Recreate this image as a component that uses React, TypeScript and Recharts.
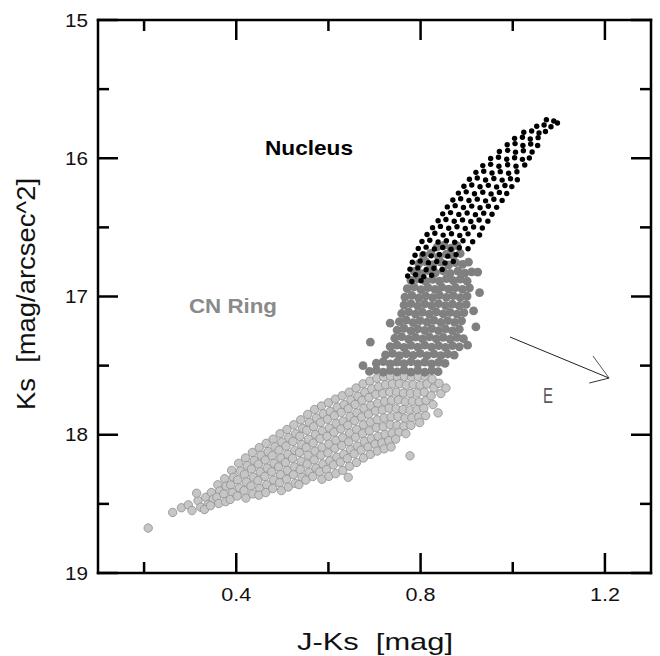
import React from 'react';
import { ScatterChart, Scatter, XAxis, YAxis, ReferenceLine } from 'recharts';

// ---------- axis ticks ----------
const xTicks = [0.2, 0.4, 0.6, 0.8, 1.0, 1.2];
const xLabelTicks = [0.4, 0.8, 1.2];
const yTicks = [15, 15.5, 16, 16.5, 17, 17.5, 18, 18.5, 19];
const yLabelTicks = [15, 16, 17, 18, 19];
const xDomain: [number, number] = [0.1, 1.3];
const yDomain: [number, number] = [15, 19];

// ---------- series: [J-Ks, Ks] ----------
// outer disk (light grey open circles)
const diskPoints: [number, number][] = [
  [0.209, 18.675], [0.262, 18.562], [0.281, 18.528], [0.296, 18.507], [0.304, 18.548], [0.317, 18.476], [0.323, 18.524],
  [0.334, 18.452], [0.339, 18.503], [0.331, 18.541], [0.314, 18.423],
  [0.346, 18.418], [0.35, 18.466], [0.344, 18.513],
  [0.36, 18.362], [0.364, 18.407], [0.358, 18.452], [0.362, 18.497],
  [0.375, 18.318], [0.378, 18.372], [0.373, 18.428], [0.377, 18.484],
  [0.39, 18.258], [0.394, 18.308], [0.388, 18.363], [0.392, 18.418], [0.387, 18.468],
  [0.405, 18.207], [0.409, 18.262], [0.403, 18.327], [0.407, 18.384], [0.402, 18.443],
  [0.42, 18.168], [0.424, 18.223], [0.418, 18.287], [0.422, 18.341], [0.417, 18.404], [0.421, 18.458],
  [0.435, 18.128], [0.439, 18.187], [0.433, 18.248], [0.437, 18.306], [0.432, 18.371], [0.436, 18.428],
  [0.45, 18.093], [0.454, 18.148], [0.448, 18.213], [0.452, 18.268], [0.447, 18.332], [0.451, 18.388], [0.449, 18.437],
  [0.465, 18.062], [0.469, 18.122], [0.463, 18.183], [0.467, 18.241], [0.462, 18.302], [0.466, 18.362], [0.464, 18.418],
  [0.48, 18.032], [0.484, 18.087], [0.478, 18.152], [0.482, 18.207], [0.477, 18.268], [0.481, 18.327], [0.479, 18.389],
  [0.495, 17.993], [0.499, 18.053], [0.493, 18.112], [0.497, 18.168], [0.492, 18.232], [0.496, 18.288], [0.494, 18.347], [0.498, 18.404],
  [0.51, 17.962], [0.514, 18.021], [0.508, 18.083], [0.512, 18.142], [0.507, 18.201], [0.511, 18.258], [0.509, 18.322], [0.513, 18.378],
  [0.525, 17.928], [0.529, 17.992], [0.523, 18.049], [0.527, 18.113], [0.522, 18.171], [0.526, 18.232], [0.524, 18.289], [0.528, 18.352],
  [0.54, 17.892], [0.544, 17.953], [0.538, 18.012], [0.542, 18.071], [0.537, 18.128], [0.541, 18.191], [0.539, 18.252], [0.543, 18.308], [0.536, 18.361],
  [0.555, 17.853], [0.559, 17.912], [0.553, 17.968], [0.557, 18.032], [0.552, 18.093], [0.556, 18.148], [0.554, 18.212], [0.558, 18.271], [0.551, 18.328],
  [0.57, 17.817], [0.574, 17.878], [0.568, 17.942], [0.572, 17.998], [0.567, 18.061], [0.571, 18.118], [0.569, 18.182], [0.573, 18.241], [0.566, 18.302],
  [0.585, 17.792], [0.589, 17.848], [0.583, 17.911], [0.587, 17.972], [0.582, 18.028], [0.586, 18.092], [0.584, 18.148], [0.588, 18.212], [0.581, 18.268], [0.586, 18.322],
  [0.6, 17.768], [0.604, 17.832], [0.598, 17.888], [0.602, 17.951], [0.597, 18.012], [0.601, 18.068], [0.599, 18.131], [0.603, 18.188], [0.596, 18.252], [0.601, 18.301],
  [0.615, 17.742], [0.619, 17.801], [0.613, 17.862], [0.617, 17.918], [0.612, 17.982], [0.616, 18.041], [0.614, 18.098], [0.618, 18.162], [0.611, 18.218], [0.616, 18.281],
  [0.63, 17.718], [0.634, 17.782], [0.628, 17.838], [0.632, 17.902], [0.627, 17.958], [0.631, 18.021], [0.629, 18.078], [0.633, 18.142], [0.626, 18.198], [0.631, 18.258],
  [0.645, 17.692], [0.649, 17.748], [0.643, 17.812], [0.647, 17.868], [0.642, 17.932], [0.646, 17.988], [0.644, 18.052], [0.648, 18.108], [0.641, 18.172], [0.646, 18.228], [0.643, 18.308],
  [0.66, 17.662], [0.664, 17.722], [0.658, 17.781], [0.662, 17.842], [0.657, 17.898], [0.661, 17.962], [0.659, 18.018], [0.663, 18.082], [0.656, 18.138], [0.661, 18.201],
  [0.675, 17.632], [0.679, 17.692], [0.673, 17.752], [0.677, 17.808], [0.672, 17.872], [0.676, 17.928], [0.674, 17.992], [0.678, 18.048], [0.671, 18.112], [0.676, 18.168],
  [0.69, 17.612], [0.694, 17.668], [0.688, 17.731], [0.692, 17.788], [0.687, 17.852], [0.691, 17.908], [0.689, 17.972], [0.693, 18.028], [0.686, 18.088], [0.691, 18.142],
  [0.705, 17.592], [0.709, 17.652], [0.703, 17.708], [0.707, 17.772], [0.702, 17.828], [0.706, 17.892], [0.704, 17.948], [0.708, 18.012], [0.701, 18.068], [0.706, 18.118],
  [0.72, 17.582], [0.724, 17.638], [0.718, 17.702], [0.722, 17.758], [0.717, 17.822], [0.721, 17.878], [0.719, 17.942], [0.723, 17.998], [0.716, 18.058], [0.721, 18.102],
  [0.735, 17.578], [0.739, 17.632], [0.733, 17.692], [0.737, 17.752], [0.732, 17.808], [0.736, 17.872], [0.734, 17.928], [0.738, 17.988], [0.731, 18.042], [0.736, 18.088],
  [0.75, 17.582], [0.754, 17.631], [0.748, 17.692], [0.752, 17.748], [0.747, 17.812], [0.751, 17.868], [0.749, 17.932], [0.753, 17.982], [0.746, 18.032],
  [0.765, 17.578], [0.769, 17.642], [0.763, 17.698], [0.767, 17.762], [0.762, 17.818], [0.766, 17.882], [0.764, 17.938], [0.768, 17.992],
  [0.78, 17.582], [0.784, 17.638], [0.778, 17.702], [0.782, 17.758], [0.777, 17.822], [0.781, 17.878], [0.779, 17.932], [0.777, 18.152],
  [0.795, 17.578], [0.799, 17.642], [0.793, 17.698], [0.797, 17.762], [0.792, 17.818], [0.796, 17.872], [0.798, 17.912],
  [0.81, 17.582], [0.814, 17.632], [0.808, 17.692], [0.812, 17.752], [0.807, 17.808], [0.811, 17.862],
  [0.825, 17.598], [0.829, 17.662], [0.823, 17.718], [0.827, 17.782],
  [0.84, 17.628], [0.844, 17.702], [0.838, 17.842], [0.855, 17.662],
];

// CN ring (dark grey)
const ringPoints: [number, number][] = [
  [0.836, 16.642], [0.851, 16.628], [0.866, 16.651], [0.879, 16.633],
  [0.806, 16.702], [0.822, 16.688], [0.839, 16.711], [0.856, 16.694], [0.871, 16.706], [0.886, 16.689],
  [0.796, 16.764], [0.811, 16.748], [0.827, 16.769], [0.844, 16.752], [0.861, 16.771], [0.876, 16.755], [0.891, 16.768], [0.904, 16.751],
  [0.786, 16.818], [0.801, 16.834], [0.816, 16.812], [0.832, 16.829], [0.849, 16.815], [0.864, 16.833], [0.881, 16.816], [0.896, 16.831], [0.911, 16.822],
  [0.779, 16.884], [0.794, 16.872], [0.811, 16.891], [0.826, 16.876], [0.841, 16.889], [0.856, 16.871], [0.871, 16.886], [0.886, 16.874], [0.901, 16.889],
  [0.771, 16.943], [0.786, 16.931], [0.801, 16.951], [0.816, 16.936], [0.831, 16.948], [0.846, 16.932], [0.861, 16.947], [0.876, 16.935], [0.891, 16.949], [0.906, 16.937],
  [0.766, 17.004], [0.781, 16.992], [0.796, 17.011], [0.811, 16.996], [0.826, 17.008], [0.841, 16.991], [0.856, 17.006], [0.871, 16.994], [0.886, 17.009], [0.901, 16.997],
  [0.764, 17.062], [0.779, 17.051], [0.794, 17.069], [0.809, 17.054], [0.824, 17.067], [0.839, 17.052], [0.854, 17.066], [0.869, 17.055], [0.884, 17.068], [0.899, 17.057],
  [0.759, 17.123], [0.774, 17.111], [0.789, 17.128], [0.804, 17.114], [0.819, 17.127], [0.834, 17.112], [0.849, 17.126], [0.864, 17.115], [0.879, 17.128], [0.894, 17.116],
  [0.754, 17.182], [0.769, 17.171], [0.784, 17.189], [0.799, 17.174], [0.814, 17.186], [0.829, 17.172], [0.844, 17.188], [0.859, 17.175], [0.874, 17.187], [0.889, 17.176],
  [0.749, 17.243], [0.764, 17.231], [0.779, 17.248], [0.794, 17.234], [0.809, 17.246], [0.824, 17.232], [0.839, 17.247], [0.854, 17.235], [0.869, 17.249], [0.884, 17.236],
  [0.744, 17.302], [0.759, 17.291], [0.774, 17.309], [0.789, 17.294], [0.804, 17.306], [0.819, 17.292], [0.834, 17.307], [0.849, 17.295], [0.864, 17.308], [0.879, 17.296], [0.893, 17.305],
  [0.734, 17.362], [0.749, 17.351], [0.764, 17.368], [0.779, 17.354], [0.794, 17.366], [0.809, 17.352], [0.824, 17.367], [0.839, 17.355], [0.854, 17.368], [0.869, 17.356], [0.884, 17.364],
  [0.724, 17.423], [0.739, 17.411], [0.754, 17.428], [0.769, 17.414], [0.784, 17.426], [0.799, 17.412], [0.814, 17.427], [0.829, 17.415], [0.844, 17.428], [0.859, 17.416], [0.873, 17.424],
  [0.704, 17.483], [0.719, 17.471], [0.734, 17.488], [0.749, 17.474], [0.764, 17.486], [0.779, 17.472], [0.794, 17.487], [0.809, 17.475], [0.824, 17.488], [0.839, 17.476], [0.853, 17.484],
  [0.689, 17.542], [0.704, 17.531], [0.719, 17.548], [0.734, 17.534], [0.749, 17.546], [0.764, 17.532], [0.779, 17.547], [0.794, 17.535], [0.809, 17.548], [0.824, 17.536], [0.838, 17.544],
  [0.928, 16.972], [0.924, 16.823], [0.734, 17.192], [0.675, 17.5], [0.691, 17.33], [0.902, 17.352], [0.915, 17.104], [0.92, 17.22],
];

// nucleus (black)
const nucleusPoints: [number, number][] = [
  [1.073, 15.722], [1.089, 15.731], [1.097, 15.745],
  [1.052, 15.768], [1.068, 15.759], [1.083, 15.772],
  [1.024, 15.812], [1.041, 15.803], [1.057, 15.817], [1.071, 15.806],
  [1.004, 15.856], [1.021, 15.848], [1.038, 15.861], [1.055, 15.851],
  [0.988, 15.902], [1.005, 15.894], [1.022, 15.907], [1.039, 15.897], [1.054, 15.908],
  [0.971, 15.951], [0.989, 15.943], [1.006, 15.956], [1.023, 15.946], [1.042, 15.955],
  [0.952, 16.002], [0.969, 15.993], [0.987, 16.007], [1.004, 15.996], [1.021, 16.008], [1.036, 15.998],
  [0.935, 16.053], [0.952, 16.044], [0.97, 16.058], [0.989, 16.047], [1.007, 16.057], [1.026, 16.049],
  [0.92, 16.102], [0.937, 16.094], [0.955, 16.107], [0.973, 16.097], [0.991, 16.108], [1.009, 16.098],
  [0.906, 16.152], [0.923, 16.143], [0.941, 16.157], [0.959, 16.146], [0.977, 16.158], [0.995, 16.148], [1.01, 16.156],
  [0.894, 16.202], [0.911, 16.193], [0.929, 16.206], [0.947, 16.196], [0.965, 16.208], [0.983, 16.197], [0.998, 16.205],
  [0.882, 16.252], [0.899, 16.243], [0.917, 16.257], [0.935, 16.246], [0.953, 16.258], [0.971, 16.247], [0.987, 16.255],
  [0.87, 16.302], [0.887, 16.293], [0.905, 16.306], [0.923, 16.296], [0.941, 16.308], [0.959, 16.297], [0.977, 16.305],
  [0.858, 16.352], [0.875, 16.343], [0.893, 16.356], [0.911, 16.346], [0.929, 16.358], [0.947, 16.347], [0.965, 16.355],
  [0.848, 16.402], [0.865, 16.393], [0.883, 16.406], [0.901, 16.396], [0.919, 16.408], [0.937, 16.397], [0.955, 16.405],
  [0.838, 16.452], [0.855, 16.443], [0.873, 16.456], [0.891, 16.446], [0.909, 16.458], [0.927, 16.447], [0.946, 16.455],
  [0.826, 16.502], [0.843, 16.493], [0.861, 16.506], [0.879, 16.496], [0.897, 16.508], [0.915, 16.497], [0.934, 16.505],
  [0.814, 16.552], [0.831, 16.543], [0.849, 16.556], [0.867, 16.546], [0.885, 16.558], [0.903, 16.547], [0.928, 16.555],
  [0.803, 16.602], [0.82, 16.593], [0.838, 16.606], [0.856, 16.596], [0.874, 16.608], [0.892, 16.597], [0.913, 16.604],
  [0.795, 16.652], [0.812, 16.643], [0.83, 16.656], [0.848, 16.646], [0.866, 16.658], [0.884, 16.647], [0.903, 16.655],
  [0.788, 16.702], [0.805, 16.693], [0.823, 16.706], [0.841, 16.696], [0.859, 16.708], [0.877, 16.697],
  [0.782, 16.752], [0.799, 16.743], [0.817, 16.756], [0.835, 16.746], [0.853, 16.758], [0.871, 16.747],
  [0.777, 16.802], [0.794, 16.793], [0.812, 16.806], [0.829, 16.796], [0.847, 16.804],
  [0.772, 16.852], [0.789, 16.843], [0.807, 16.856], [0.824, 16.846],
  [0.781, 16.892], [0.801, 16.886],
];

// extinction (reddening) vector annotation
const eVectorShaft = [{ x: 0.994, y: 17.293 }, { x: 1.209, y: 17.59 }];
const eVectorHeadUpper = [{ x: 1.174, y: 17.43 }, { x: 1.209, y: 17.59 }];
const eVectorHeadLower = [{ x: 1.166, y: 17.626 }, { x: 1.209, y: 17.59 }];

const toRows = (pts: [number, number][]) => pts.map(([x, y]) => ({ x, y }));
const diskData = toRows(diskPoints);
const ringData = toRows(ringPoints);
const nucleusData = toRows(nucleusPoints);

const FONT = '"Liberation Sans", Arial, Helvetica, sans-serif';
const AX = 2.5;
const isIn = (arr: number[], v: number) => arr.some((t) => Math.abs(t - v) < 1e-6);

const BottomTick = (props: any) => {
  const { x, y, payload } = props;
  const v = payload.value as number;
  const major = isIn(xLabelTicks, v);
  return (
    <g>
      <line x1={x} y1={y} x2={x} y2={y - (major ? 20 : 11)} stroke="#000" strokeWidth={AX} />
      {major && (
        <text x={x} y={y + 28} textAnchor="middle" fontSize={18.5} fontFamily={FONT} fill="#111"
          textLength={30} lengthAdjust="spacingAndGlyphs">{v.toFixed(1)}</text>
      )}
    </g>
  );
};

const TopTick = (props: any) => {
  const { x, y, payload } = props;
  const major = isIn(xLabelTicks, payload.value);
  return <line x1={x} y1={y} x2={x} y2={y + (major ? 20 : 11)} stroke="#000" strokeWidth={AX} />;
};

const LeftTick = (props: any) => {
  const { x, y, payload } = props;
  const v = payload.value as number;
  const major = isIn(yLabelTicks, v);
  return (
    <g>
      <line x1={x} y1={y} x2={x + (major ? 20 : 11)} y2={y} stroke="#000" strokeWidth={AX} />
      {major && (
        <text x={x - 10} y={y + 6.7} textAnchor="end" fontSize={18.5} fontFamily={FONT} fill="#111"
          textLength={23} lengthAdjust="spacingAndGlyphs">{String(v)}</text>
      )}
    </g>
  );
};

const RightTick = (props: any) => {
  const { x, y, payload } = props;
  const major = isIn(yLabelTicks, payload.value);
  return <line x1={x} y1={y} x2={x - (major ? 20 : 11)} y2={y} stroke="#000" strokeWidth={AX} />;
};

const axisLineStyle = { stroke: '#000', strokeWidth: AX, strokeLinecap: 'square' as const };

export default function App() {
  return (
    <div style={{ position: 'absolute', left: 0, top: 0, width: 660, height: 656, background: '#fff' }}>
      <ScatterChart width={660} height={656} margin={{ top: 0, right: 0, bottom: 0, left: 0 }}>
        <XAxis xAxisId={0} dataKey="x" type="number" domain={xDomain} ticks={xTicks} interval={0}
          allowDataOverflow orientation="bottom" height={83} tickSize={0} tickMargin={0}
          tickLine={false} axisLine={axisLineStyle} tick={<BottomTick />} />
        <XAxis xAxisId="top" dataKey="x" type="number" domain={xDomain} ticks={xTicks} interval={0}
          allowDataOverflow orientation="top" height={20} tickSize={0} tickMargin={0}
          tickLine={false} axisLine={axisLineStyle} tick={<TopTick />} />
        <YAxis yAxisId={0} dataKey="y" type="number" domain={yDomain} ticks={yTicks} interval={0}
          reversed allowDataOverflow orientation="left" width={98} tickSize={0} tickMargin={0}
          tickLine={false} axisLine={axisLineStyle} tick={<LeftTick />} />
        <YAxis yAxisId="right" dataKey="y" type="number" domain={yDomain} ticks={yTicks} interval={0}
          reversed allowDataOverflow orientation="right" width={9} tickSize={0} tickMargin={0}
          tickLine={false} axisLine={axisLineStyle} tick={<RightTick />} />

        <Scatter name="Disk" data={diskData} isAnimationActive={false}
          shape={(p: any) => <circle cx={p.cx} cy={p.cy} r={4.2} fill="#c6c6c6" stroke="#8e8e8e" strokeWidth={0.8} />} />
        <Scatter name="CN Ring" data={ringData} isAnimationActive={false}
          shape={(p: any) => <circle cx={p.cx} cy={p.cy} r={4.4} fill="#808080" />} />
        <Scatter name="Nucleus" data={nucleusData} isAnimationActive={false}
          shape={(p: any) => <circle cx={p.cx} cy={p.cy} r={2.7} fill="#000" />} />

        <ReferenceLine segment={eVectorShaft} stroke="#222" strokeWidth={1} ifOverflow="visible" />
        <ReferenceLine segment={eVectorHeadUpper} stroke="#555" strokeWidth={1} ifOverflow="visible" />
        <ReferenceLine segment={eVectorHeadLower} stroke="#333" strokeWidth={1} ifOverflow="visible" />
      </ScatterChart>

      <svg width={660} height={656} style={{ position: 'absolute', left: 0, top: 0, pointerEvents: 'none' }}>
        <text x={375} y={650} textAnchor="middle" fontSize={24} fontFamily={FONT} fill="#111"
          style={{ whiteSpace: 'pre' }} textLength={156} lengthAdjust="spacingAndGlyphs">J-Ks  [mag]</text>
        <text transform="translate(35,294) rotate(-90)" x={0} y={0} textAnchor="middle" fontSize={25}
          style={{ whiteSpace: 'pre' }} fontFamily={FONT} fill="#111" textLength={232} lengthAdjust="spacingAndGlyphs">Ks  [mag/arcsec^2]</text>
        <text x={265} y={155} fontSize={21} fontWeight="bold" fontFamily={FONT} fill="#000"
          textLength={88} lengthAdjust="spacingAndGlyphs">Nucleus</text>
        <text x={189} y={313} fontSize={21} fontWeight="bold" fontFamily={FONT} fill="#8a8a8a"
          textLength={88} lengthAdjust="spacingAndGlyphs">CN Ring</text>
        <text x={543} y={403} fontSize={22} fontFamily={FONT} fill="#5a5a5a"
          textLength={10} lengthAdjust="spacingAndGlyphs">E</text>
      </svg>
    </div>
  );
}
